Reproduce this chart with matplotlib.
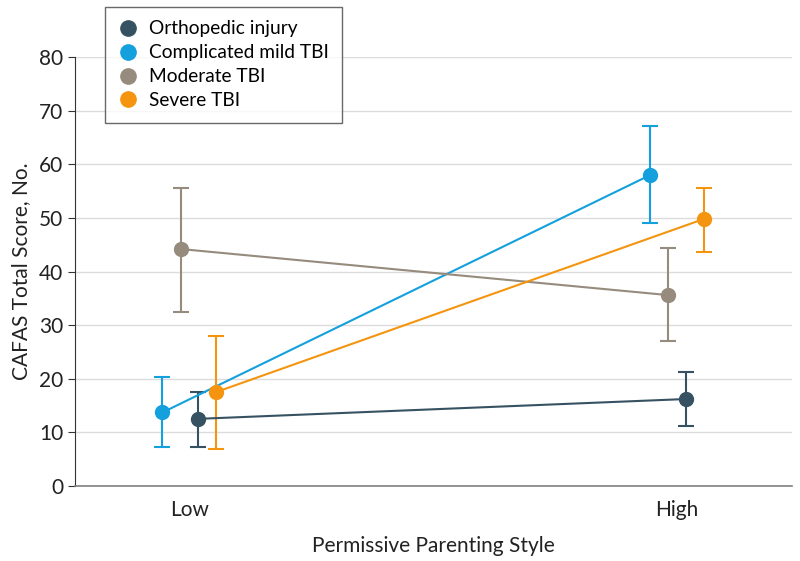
import numpy as np
import matplotlib
matplotlib.use("Agg")
import matplotlib.pyplot as plt

plt.rcParams['font.family'] = ['Lato', 'DejaVu Sans']

# data
groups = ["Orthopedic injury", "Complicated mild TBI", "Moderate TBI", "Severe TBI"]
colors = ["#365262", "#13a0dd", "#968b7d", "#f4940f"]
levels = ["Low", "High"]

ortho_mean = [12.5, 16.2]
ortho_lo = [7.3, 11.2]
ortho_hi = [17.6, 21.2]

mild_mean = [13.7, 58.0]
mild_lo = [7.2, 49.1]
mild_hi = [20.3, 67.2]

moderate_mean = [44.2, 35.6]
moderate_lo = [32.5, 27.1]
moderate_hi = [55.5, 44.4]

severe_mean = [17.5, 49.8]
severe_lo = [6.85, 43.6]
severe_hi = [28.0, 55.5]

# horizontal dodge per group (ortho, mild, moderate, severe)
dodge = [0.018, -0.055, -0.018, 0.055]

series = [(ortho_mean, ortho_lo, ortho_hi),
          (mild_mean, mild_lo, mild_hi),
          (moderate_mean, moderate_lo, moderate_hi),
          (severe_mean, severe_lo, severe_hi)]

fig = plt.figure(figsize=(8, 5.61), dpi=100)
ax = fig.add_axes([0.094, 0.134, 0.896, 0.764])

x = np.arange(len(levels))
for name, col, off, (m, lo, hi) in zip(groups, colors, dodge, series):
    m = np.array(m); lo = np.array(lo); hi = np.array(hi)
    ax.errorbar(x + off, m, yerr=[m - lo, hi - m], color=col, lw=1.5,
                marker="o", ms=10, capsize=6, capthick=1.5, elinewidth=1.5,
                label=name, zorder=3)

ax.set_xlim(-0.234, 1.236)
ax.set_ylim(0, 80)
ax.set_yticks(np.arange(0, 81, 10))
ax.set_xticks(x)
ax.set_xticklabels(levels)
ax.yaxis.grid(True, color="#dcdcdc", lw=1)
ax.set_axisbelow(True)

for s in ["top", "right"]:
    ax.spines[s].set_visible(False)
ax.spines["left"].set_color("#333333")
ax.spines["bottom"].set_color("#808080")
ax.spines["bottom"].set_linewidth(1.2)
ax.tick_params(axis="y", length=5, color="#333333", labelsize=15, labelcolor="#222222")
ax.tick_params(axis="x", length=0, labelsize=15, labelcolor="#222222", pad=10)

ax.set_ylabel("CAFAS Total Score, No.", fontsize=15, color="#222222", labelpad=6)
ax.set_xlabel("Permissive Parenting Style", fontsize=15, color="#222222", labelpad=12)

handles = [plt.Line2D([], [], ls="none", marker="o", ms=11, color=c) for c in colors]
leg = ax.legend(handles, groups, loc="upper left", bbox_to_anchor=(105 / 800, 1 - 7 / 561),
                bbox_transform=fig.transFigure,
                frameon=True, fancybox=False, fontsize=13.8, handlelength=1.0,
                handletextpad=0.6, labelspacing=0.36, borderpad=0.7, borderaxespad=0)
leg.get_frame().set_edgecolor("#444444")
leg.get_frame().set_linewidth(1.0)

fig.savefig("out.png", dpi=100)
